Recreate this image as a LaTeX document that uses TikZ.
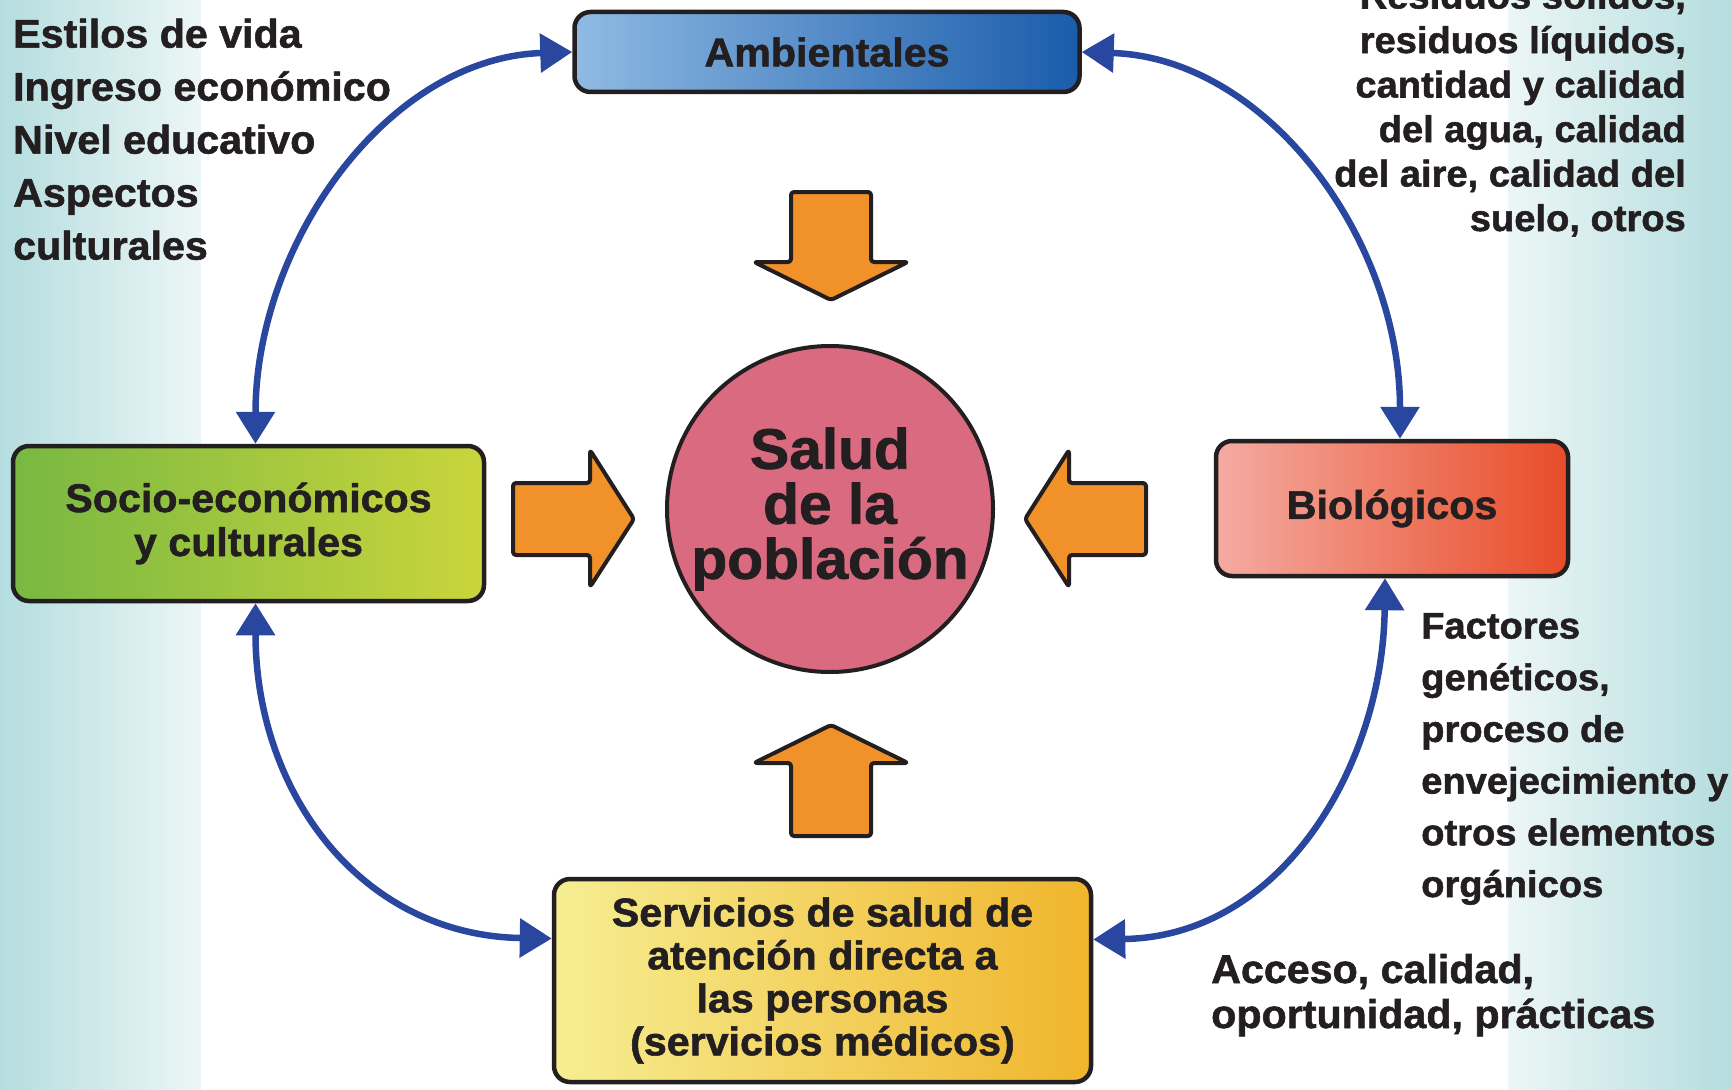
\documentclass[tikz,border=0pt]{standalone}
\usepackage{fontspec}
\setmainfont{Liberation Sans}[BoldFeatures={FakeBold=1.4,FakeStretch=1.03}]
\usetikzlibrary{arrows.meta}
\definecolor{txt}{HTML}{231F20}
\definecolor{conncol}{HTML}{2A47A0}
\definecolor{orng}{HTML}{F0912A}
\definecolor{saludcol}{HTML}{D96A7F}
\definecolor{tealA}{HTML}{B5DDDF}
\definecolor{tealB}{HTML}{ECF6F6}
\definecolor{ambL}{HTML}{8FBAE3}
\definecolor{ambR}{HTML}{1A5CAB}
\definecolor{socL}{HTML}{78B842}
\definecolor{socR}{HTML}{CAD53B}
\definecolor{bioL}{HTML}{F4ABA2}
\definecolor{bioR}{HTML}{E84C28}
\definecolor{serL}{HTML}{F6EE92}
\definecolor{serR}{HTML}{F0B52C}
\begin{document}
\begin{tikzpicture}[x=1pt,y=-1pt,
  box/.style={draw=txt, line width=4.5pt, rounded corners=16pt, align=center,
    inner sep=0pt, text=txt, font=\bfseries\fontsize{40}{44}\selectfont},
  conn/.style={draw=conncol, line width=6.5pt,
    {Triangle[length=32pt,width=38pt]}-{Triangle[length=32pt,width=38pt]}},
  fat/.style={fill=orng, draw=txt, line width=4pt, line join=round, rounded corners=3pt},
  lbl/.style={inner sep=0pt, text=txt}
]
\useasboundingbox (0,0) rectangle (1731,1089);
\clip (0,0) rectangle (1731,1089);
% background bands
\shade[left color=tealA, right color=tealB] (0,0) rectangle (201,1089);
\shade[left color=tealB, right color=tealA] (1508,0) rectangle (1731,1089);

% boxes
\node[box, left color=ambL, right color=ambR, minimum width=505pt, minimum height=80pt] (amb) at (827,52) {Ambientales};
\node[box, left color=socL, right color=socR, minimum width=471pt, minimum height=155pt] (soc) at (248.5,523.5) {Socio-económicos\\y culturales};
\node[box, left color=bioL, right color=bioR, minimum width=352pt, minimum height=135pt] (bio) at (1392,508.5) {Biológicos};
\node[box, left color=serL, right color=serR, minimum width=537pt, minimum height=203pt, font=\bfseries\fontsize{40}{43}\selectfont] (serv) at (822.5,980.5) {Servicios de salud de\\atención directa a\\las personas\\(servicios médicos)};

% centre
\node[circle, draw=txt, line width=4pt, fill=saludcol, minimum size=326pt, inner sep=0pt,
  align=center, text=txt, font=\bfseries\fontsize{57}{55}\selectfont] (sal) at (830,509) {Salud\\de la\\población};

% orange arrows
\draw[fat] (791,192) -- (871,192) -- (871,262) -- (908,262) -- (831,300) -- (754,262) -- (791,262) -- cycle;
\draw[fat] (791,836) -- (871,836) -- (871,763) -- (908,763) -- (831,725) -- (754,763) -- (791,763) -- cycle;
\draw[fat] (513,483) -- (590,483) -- (590,450) -- (634,519) -- (590,587) -- (590,555) -- (513,555) -- cycle;
\draw[fat] (1146,483) -- (1069,483) -- (1069,450) -- (1025,519) -- (1069,587) -- (1069,555) -- (1146,555) -- cycle;

% connectors
\draw[conn] (amb.west) .. controls +(-185,6) and +(0,-200) .. ([xshift=7pt]soc.north);
\draw[conn] (amb.east) .. controls +(185,6) and +(0,-200) .. ([xshift=8pt]bio.north);
\draw[conn] ([xshift=7pt]soc.south) .. controls +(0,190) and +(-190,-3) .. ([yshift=42pt]serv.west);
\draw[conn] ([xshift=-7pt]bio.south) .. controls +(-2,185) and +(190,-3) .. ([yshift=41pt]serv.east);

% text blocks (base anchor = baseline of the last line)
\node[lbl, align=left, anchor=base west, font=\bfseries\fontsize{40}{53}\selectfont] (lt) at (13,259.6)
  {Estilos de vida\\Ingreso económico\\Nivel educativo\\Aspectos\\culturales};
\node[lbl, align=right, anchor=base east, font=\bfseries\fontsize{37}{44.5}\selectfont] (rt) at (1686,231)
  {Residuos sólidos,\\residuos líquidos,\\cantidad y calidad\\del agua, calidad\\del aire, calidad del\\suelo, otros};
\node[lbl, align=left, anchor=base west, font=\bfseries\fontsize{37}{51.7}\selectfont] (fg) at (1421,897)
  {Factores\\genéticos,\\proceso de\\envejecimiento y\\otros elementos\\orgánicos};
\node[lbl, align=left, anchor=base west, font=\bfseries\fontsize{40}{45}\selectfont] (ac) at (1211,1028)
  {Acceso, calidad,\\oportunidad, prácticas};
\end{tikzpicture}
\end{document}
